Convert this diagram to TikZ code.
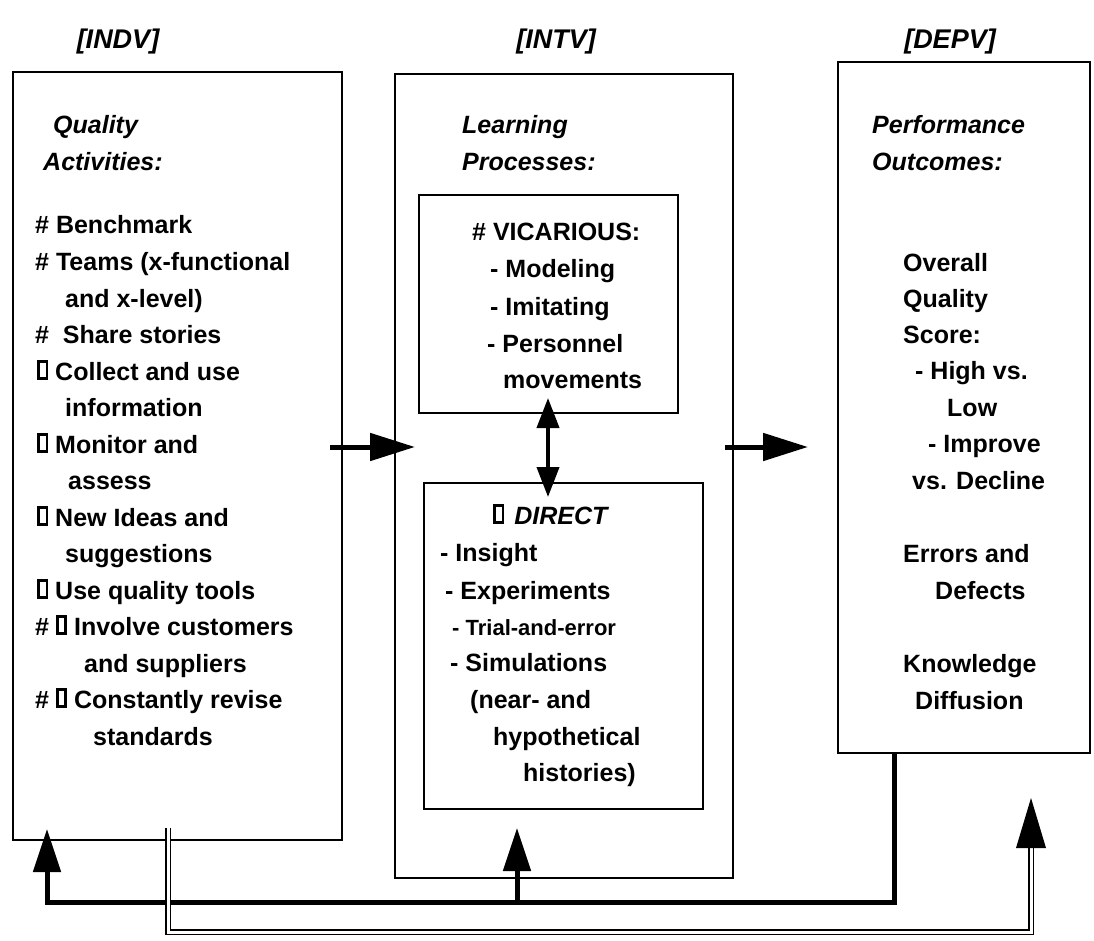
\documentclass[tikz,border=0pt]{standalone}
\usepackage{fontspec}
\setmainfont{Liberation Sans}
\usetikzlibrary{arrows.meta}
\newcommand\qbox{\raisebox{2.8pt}{\setlength\fboxrule{2.8pt}\setlength\fboxsep{0pt}\fbox{\rule{0pt}{14pt}\rule{5.5pt}{0pt}}}}
\tikzset{
  box/.style={draw, line width=2.5pt, inner sep=0pt, outer sep=0pt, anchor=north west},
  txt/.style={font=\fontsize{25}{30}\selectfont\bfseries, inner sep=0pt, anchor=base west},
  small/.style={font=\fontsize{22}{26}\selectfont\bfseries, inner sep=0pt, anchor=base west},
  hd/.style={font=\fontsize{25}{30}\selectfont\bfseries\itshape, inner sep=0pt, anchor=base west},
  hdr/.style={font=\fontsize{27}{32}\selectfont\bfseries\itshape, inner sep=0pt, anchor=center},
  bigarrow/.style={line width=5pt, -{Triangle[length=45pt,width=27pt]}},
  fbarrow/.style={line width=5pt, line join=miter, -{Triangle[length=43pt,width=27pt]}},
  dbl/.style={draw, double, double distance=3pt, line width=1.6pt, line join=miter},
}
\begin{document}
\begin{tikzpicture}[x=1pt,y=-1pt]
\useasboundingbox (0,0) rectangle (1094,941);

% headers
\node[hdr] (hindv) at (118,42) {[INDV]};
\node[hdr] (hintv) at (556,42) {[INTV]};
\node[hdr] (hdepv) at (950,42) {[DEPV]};

% boxes
\node[box, minimum width=329pt, minimum height=768pt] (indv) at (13,72) {};
\node[box, minimum width=338pt, minimum height=804pt] (intv) at (395,74) {};
\node[box, minimum width=259pt, minimum height=218pt] (vic) at (419,195) {};
\node[box, minimum width=279pt, minimum height=326pt] (dir) at (424,483) {};
\node[box, minimum width=252pt, minimum height=691pt] (depv) at (838,62) {};

% left column
\node[hd] (qa1) at (53,134) {Quality};
\node[hd] (qa2) at (43,171) {Activities:};
\node[txt] (l1) at (35,234) {\# Benchmark};
\node[txt] (l2) at (35,270) {\# Teams (x-functional};
\node[txt] (l3) at (65,307) {and x-level)};
\node[txt] (l4) at (35,343) {\#\ \ Share stories};
\node[txt] (l5) at (37,380) {\qbox\ Collect and use};
\node[txt] (l6) at (65,416) {information};
\node[txt] (l7) at (37,453) {\qbox\ Monitor and};
\node[txt] (l8) at (68,489) {assess};
\node[txt] (l9) at (37,526) {\qbox\ New Ideas and};
\node[txt] (l10) at (65,562) {suggestions};
\node[txt] (l11) at (37,599) {\qbox\ Use quality tools};
\node[txt] (l12) at (35,635) {\# \qbox\ Involve customers};
\node[txt] (l13) at (84,672) {and suppliers};
\node[txt] (l14) at (35,708) {\# \qbox\ Constantly revise};
\node[txt] (l15) at (93,745) {standards};

% middle column
\node[hd] (lp1) at (462,134) {Learning};
\node[hd] (lp2) at (462,171) {Processes:};
\node[txt] (v1) at (472,241) {\# VICARIOUS:};
\node[txt] (v2) at (490,277) {- Modeling};
\node[txt] (v3) at (490,315) {- Imitating};
\node[txt] (v4) at (487,352) {- Personnel};
\node[txt] (v5) at (503,388) {movements};
\node[txt] (d1) at (493,524) {\qbox\hspace{10pt}\textit{DIRECT}};
\node[txt] (d2) at (440,561) {- Insight};
\node[txt] (d3) at (445,599) {- Experiments};
\node[small] (d4) at (452,635) {- Trial-and-error};
\node[txt] (d5) at (450,671) {- Simulations};
\node[txt] (d6) at (470,708) {(near- and};
\node[txt] (d7) at (493,745) {hypothetical};
\node[txt] (d8) at (523,781) {histories)};

% right column
\node[hd] (po1) at (872,134) {Performance};
\node[hd] (po2) at (872,171) {Outcomes:};
\node[txt] (r1) at (903,271) {Overall};
\node[txt] (r2) at (903,307) {Quality};
\node[txt] (r3) at (903,343) {Score:};
\node[txt] (r4) at (915,379) {- High vs.};
\node[txt] (r5) at (947,416) {Low};
\node[txt] (r6) at (928,452) {- Improve};
\node[txt] (r7) at (912,489) {vs. Decline};
\node[txt] (r8) at (903,562) {Errors and};
\node[txt] (r9) at (935,599) {Defects};
\node[txt] (r10) at (903,672) {Knowledge};
\node[txt] (r11) at (915,709) {Diffusion};

% coordinates for connectors
\coordinate (a1s) at (330,447);
\coordinate (a1e) at (415,447);
\coordinate (a2s) at (725,447);
\coordinate (a2e) at (808,447);
\coordinate (dvt) at (548,398);
\coordinate (dvb) at (548,497);
\coordinate (fbs) at (894,753);
\coordinate (fbc) at (894,902);
\coordinate (fbl) at (47,902);
\coordinate (fbe) at (47,829);
\coordinate (brs) at (517,902);
\coordinate (bre) at (517,828);
\coordinate (dbs) at (168,828);
\coordinate (dbc) at (168,932);
\coordinate (dbr) at (1031,932);
\coordinate (dbe) at (1031,848);
\coordinate (dbt) at (1031,798);

% forward arrows
\draw[bigarrow] (a1s) -- (a1e);
\draw[bigarrow] (a2s) -- (a2e);
\draw[line width=4pt, {Triangle[length=30pt,width=22pt]}-{Triangle[length=30pt,width=22pt]}] (dvt) -- (dvb);

% feedback (thick)
\draw[fbarrow] (fbs) -- (fbc) -- (fbl) -- (fbe);
\draw[fbarrow] (brs) -- (bre);

% feedback (double)
\path[dbl] (dbs) -- (dbc) -- (dbr) -- (dbe);
\fill (dbt) -- ([xshift=-15pt]dbe) -- ([xshift=15pt]dbe) -- cycle;
\end{tikzpicture}
\end{document}
